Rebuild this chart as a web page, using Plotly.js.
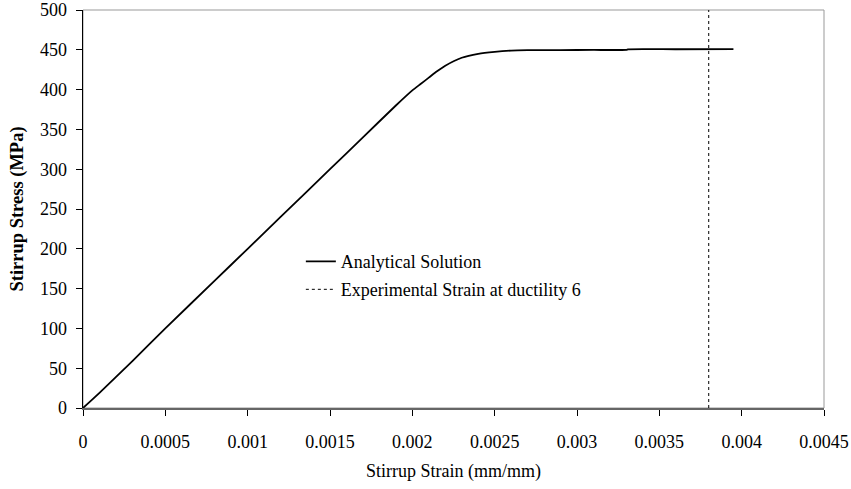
<!DOCTYPE html>
<html>
<head>
<meta charset="utf-8">
<script src="https://cdn.plot.ly/plotly-3.0.1.min.js"></script>
<style>html,body{margin:0;padding:0;background:#fff;}#chart{width:851px;height:489px;}</style>
</head>
<body>
<div id="chart"></div>
<script>
// Analytical solution (strain mm/mm, stress MPa)
const analyticalStrain = [0, 0.0001, 0.0003, 0.0005, 0.0008, 0.001, 0.0012, 0.0015, 0.0017, 0.0019, 0.002, 0.00205, 0.0021, 0.00215, 0.0022, 0.0023, 0.0024, 0.0025, 0.0026, 0.0027, 0.0029, 0.0031, 0.0033, 0.00331, 0.0036, 0.00395];
const analyticalStress = [0, 19, 59, 100, 160, 200, 240, 300, 340, 380, 399, 407, 415, 423, 430, 440, 445, 447.5, 449, 449.5, 449.7, 449.8, 450, 450.6, 450.7, 450.8];
// Experimental strain at ductility 6 (vertical line)
const experimentalStrain = [0.0038, 0.0038];
const experimentalStress = [0, 500];

const xTicks = [0, 0.0005, 0.001, 0.0015, 0.002, 0.0025, 0.003, 0.0035, 0.004, 0.0045];
const xTickText = ['0', '0.0005', '0.001', '0.0015', '0.002', '0.0025', '0.003', '0.0035', '0.004', '0.0045'];
const yTicks = [0, 50, 100, 150, 200, 250, 300, 350, 400, 450, 500];

const font = 'Liberation Serif, Times New Roman, serif';

const traces = [
  {x: analyticalStrain, y: analyticalStress, type: 'scatter', mode: 'lines', name: 'Analytical Solution',
   legendgroup: 'a', line: {color: '#000', width: 1.8, shape: 'spline', smoothing: 0.6}},
  {x: experimentalStrain, y: experimentalStress, type: 'scatter', mode: 'lines', name: 'Experimental Strain at ductility 6',
   legendgroup: 'b', line: {color: '#000', width: 1, dash: 'dot'}}
];

const layout = {
  width: 851, height: 489,
  margin: {l: 83, r: 27, t: 10, b: 81},
  paper_bgcolor: '#fff', plot_bgcolor: '#fff',
  font: {family: font, size: 18, color: '#000'},
  showlegend: true,
  legend: {x: 0.294, y: 0.414, xanchor: 'left', yanchor: 'top', bgcolor: 'rgba(0,0,0,0)',
           font: {family: font, size: 18, color: '#000'}, tracegroupgap: 1.5},
  xaxis: {
    range: [0, 0.0045], tickvals: xTicks, ticktext: xTickText,
    showgrid: false, zeroline: false, showline: true, linecolor: '#666', linewidth: 2,
    ticks: 'outside', ticklen: 6, tickwidth: 1, tickcolor: '#000', ticklabelstandoff: 10,
    tickfont: {family: font, size: 18, color: '#000'},
    title: {text: 'Stirrup Strain (mm/mm)', font: {family: font, size: 18, color: '#000'}, standoff: 14}
  },
  yaxis: {
    range: [0, 500], tickvals: yTicks,
    showgrid: false, zeroline: false, showline: true, linecolor: '#000', linewidth: 1.5,
    ticks: 'outside', ticklen: 6, tickwidth: 1, tickcolor: '#000', ticklabelstandoff: 5,
    tickfont: {family: font, size: 18, color: '#000'},
    title: {text: '<b>Stirrup Stress (MPa)</b>', font: {family: font, size: 18.5, color: '#000'}, standoff: 11}
  },
  shapes: [
    {type: 'rect', xref: 'paper', yref: 'paper', x0: 0, x1: 1, y0: 0, y1: 1,
     line: {color: '#999', width: 1}, layer: 'below'}
  ]
};

Plotly.newPlot('chart', traces, layout, {displayModeBar: false, staticPlot: true});
</script>
</body>
</html>
